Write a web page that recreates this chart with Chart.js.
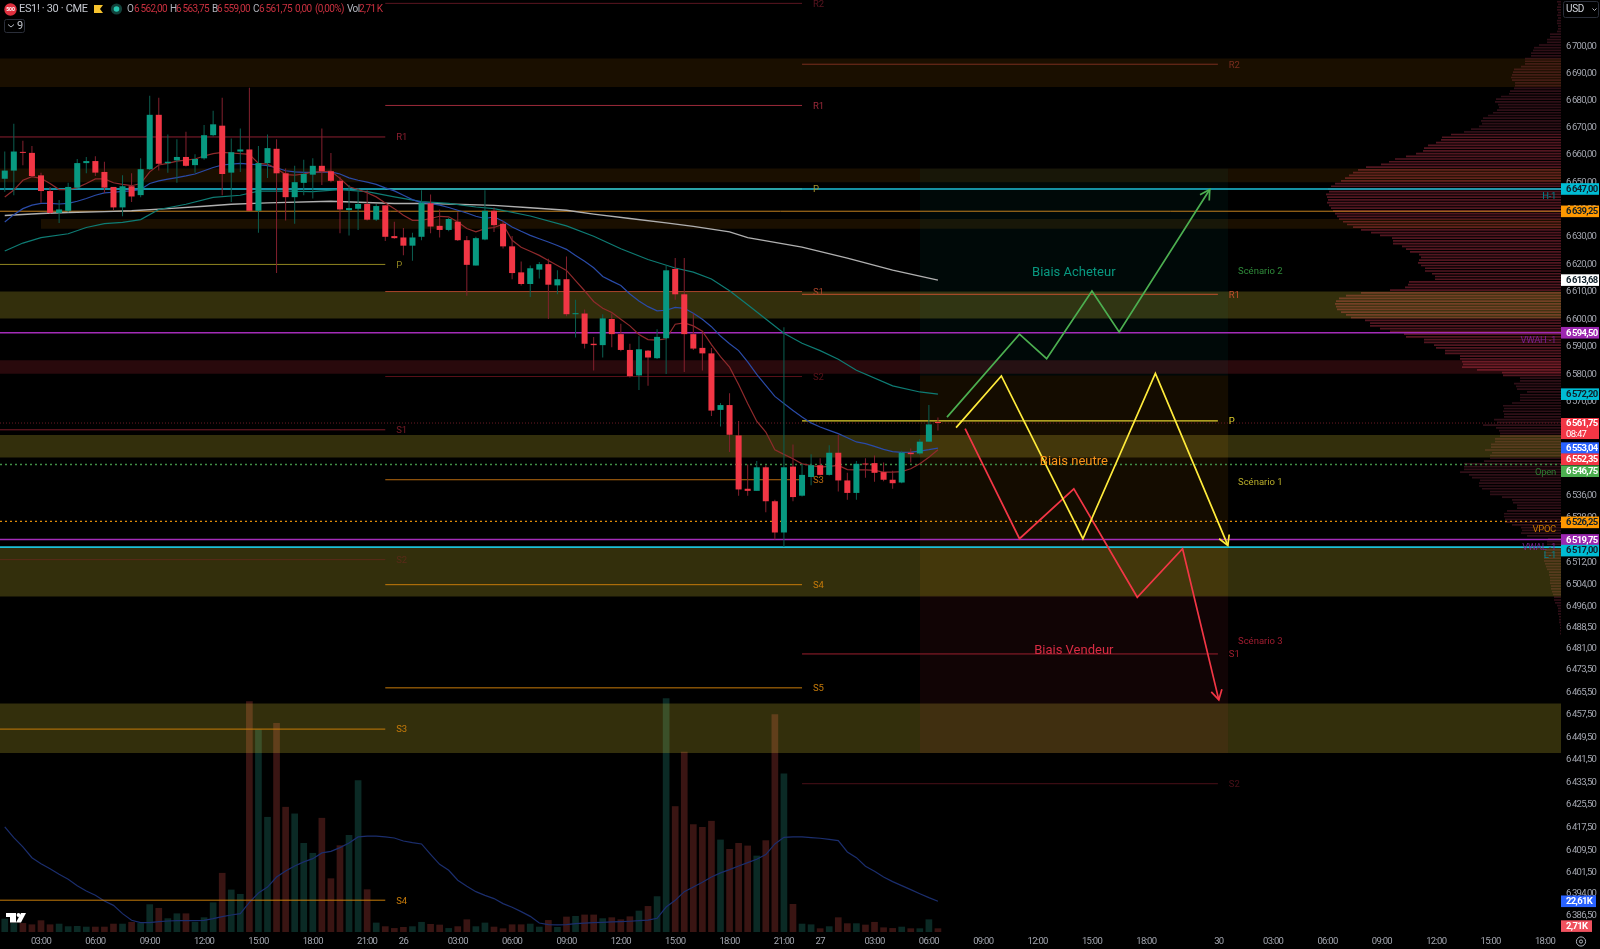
<!DOCTYPE html>
<html>
<head>
<meta charset="utf-8">
<title>ES1! 30</title>
<style>
  html, body { margin: 0; padding: 0; background: #000; overflow: hidden; }
  canvas { display: block; }
</style>
<script src="https://cdn.jsdelivr.net/npm/chart.js@4/dist/chart.umd.min.js"></script>
</head>
<body>
<canvas id="chart" width="1600" height="949"></canvas>
<script>
// candles, one per 30 min bar
const opens = [
  6650.75,6653.75,6660.5,6660.25,6652,6646.25,6638.25,6639,6647.5,6656.5,
  6657.25,6653.25,6647.75,6640.25,6648,6644.75,6654.25,6674.25,6656.5,6657.5,
  6658.75,6655.75,6658.25,6666.75,6670.25,6653,6660.75,6661.5,6639,6656.5,
  6661.75,6652.75,6644,6649.25,6652.25,6655.5,6653.5,6650,6639.25,6639.75,
  6641.5,6635.75,6641,6629.75,6629.25,6626.25,6629.5,6641.75,6633.5,6632,
  6635,6628.25,6619,6628.5,6639,6634.25,6626,6616.5,6612.25,6617.5,
  6619.5,6611.75,6614,6601.25,6601.5,6590.5,6590,6599.5,6594,6588.25,
  6579,6588,6585.25,6592.5,6617.75,6608.5,6594,6589,6587,6566.5,
  6568.25,6557.25,6538,6537.25,6545.75,6533.5,6522.25,6546,6535.5,6542.25,
  6546.5,6543,6551,6541,6536.5,6547,6547.25,6544,6541.25,6540.25,
  6551,6550.75,6555,6562];
const closes = [
  6653.75,6660.75,6660.25,6651.75,6646.25,6638.25,6639.5,6647.75,6656.5,6657.25,
  6653,6647.5,6640.25,6648,6644.25,6654.25,6674.25,6656.25,6657,6658.75,
  6655.5,6658,6666.75,6670.75,6652.5,6660.5,6661.5,6639,6656.5,6662,
  6652.75,6644,6649.5,6652.5,6655.5,6653.5,6650,6639.5,6640,6641.5,
  6635.75,6640.75,6629.5,6629,6626.25,6629.25,6642,6633.25,6632,6636,
  6628.25,6619.25,6629,6639,6633.75,6626,6616.25,6612.25,6618,6619.5,
  6612,6614,6601.25,6601.5,6590.5,6590,6599.75,6594,6588.25,6578.75,
  6588.5,6585.5,6593,6617.25,6608.5,6594,6588.75,6587,6566.25,6568.25,
  6557.5,6537.75,6537.25,6545.75,6533.5,6522.25,6545.75,6535,6543,6546.5,
  6543,6551,6541,6536.5,6547,6546.75,6543.75,6541.25,6540,6551,
  6550.5,6555,6561.25,6561.75];
const highs = [
  6660.75,6671,6664.75,6662.75,6653,6647.75,6643,6649.25,6658,6658.75,
  6659,6657,6647.75,6652,6652.75,6658.25,6681.25,6680.5,6667,6665.25,
  6668,6659.75,6670.5,6675.75,6680.5,6665.5,6669.25,6684.25,6662.75,6667,
  6665.25,6654.5,6655.5,6657.75,6658.25,6669.25,6660.25,6651.5,6648.5,6647.25,
  6646.5,6641.5,6641,6635,6632.75,6631,6646.5,6645,6639.5,6636.5,
  6638.5,6629.75,6629.5,6646.5,6640.25,6635.25,6629.75,6620.5,6619,6620.25,
  6621.5,6617.25,6622.25,6606.5,6603,6593,6601.25,6601.5,6597.75,6590.5,
  6593.25,6588.25,6595.75,6619,6621.75,6621.75,6601.5,6594.5,6589,6569,
  6572.5,6562.5,6546.75,6548,6546.5,6534,6596.5,6554,6547,6550.5,
  6549,6553.75,6557.5,6543.75,6548,6549,6550,6547.5,6544.5,6551.75,
  6552.5,6556,6568.25,6563.75];
const lows = [
  6646,6644.75,6655.75,6651.5,6642,6638,6634.5,6638.5,6647.25,6652.75,
  6651.75,6645.5,6639.25,6637,6642.25,6644,6654,6653.75,6653,6649.25,
  6655.25,6653,6657.75,6666.25,6644.75,6642.25,6653.25,6639,6631,6651,
  6616.25,6635.5,6634.25,6644.75,6643.5,6648.5,6649.5,6630.75,6630,6632,
  6635.5,6635.25,6628,6628.75,6622.75,6620.75,6628.25,6630.75,6629.25,6631.5,
  6628,6608,6619,6628.25,6631.25,6625.25,6614,6611.75,6607.5,6614.25,
  6599.5,6608.5,6600.5,6592.75,6588.75,6580.75,6585.5,6589.25,6587.75,6578.25,
  6573.75,6575.25,6585,6579.5,6606.5,6580.25,6588.25,6580.75,6564.25,6560.5,
  6551.25,6535.5,6535.5,6537.25,6529.5,6519.75,6517,6533.5,6535.25,6539.25,
  6542.75,6542.75,6537,6534,6534,6542,6540.5,6540.75,6538,6540,
  6547.5,6550.25,6555,6559];

// volume in K and its moving average
const volumes = [
  9.8,6.6,6.6,5.6,8.6,5.6,6.1,4.2,4.4,3.9,
  3.9,3.9,6.1,6.1,7.4,6.6,20.4,17.7,10.1,13.7,
  13.7,7.4,10.8,21.8,43.5,31.2,28,169.9,149,84.7,
  153.9,92.1,87.2,65.5,58.2,84,39.5,63.8,71.4,111.7,
  31.4,6.9,4.2,2.9,3.7,4.2,7.4,5.9,5.4,2.9,
  4.2,9.3,4.2,6.9,3.9,2.7,5.6,5.6,6.1,3.9,
  8.8,3.7,11.3,11.8,12.8,12.8,10.1,10.8,9.3,11.5,
  15.7,19.1,26.3,172.1,92.6,132.6,79.3,77.3,81.8,68,
  61.1,65.5,63.6,56.2,67.5,160.3,116.6,20.6,6.1,5.6,
  2.7,4.2,10.8,6.4,6.4,5.4,7.4,3.4,2.9,3.9,
  2.7,2.7,9.3,2.71];
const volumeMa = [
  77.3,69.5,62.6,54.7,50.3,46.6,42.5,38.8,34.1,30.2,
  27,22.8,19.6,13.5,8.6,6.9,6.9,7.6,8.1,8.3,
  8.3,8.3,8.6,9.8,11.3,12.5,13.5,21.8,28.7,33.1,
  40.5,44.9,48.6,51.6,54,58.2,59.4,62.1,65.5,70,
  70.5,70.5,70,69.2,67,65.8,64.8,57.2,49.8,45.4,
  38.1,33.6,29.7,27,24.6,20.9,18.2,15,11.5,6.6,
  5.4,5.2,5.4,6.1,6.6,6.9,7.1,7.4,7.6,7.9,
  8.3,8.8,10.1,18.4,23.3,29.7,33.1,36.6,40.5,43.5,
  45.9,48.6,51.1,53.5,57,64.8,69.7,70,70,69.5,
  69,68.2,67.3,58.9,54.7,48.4,44.7,40.5,37.1,34.1,
  31.2,28.2,25.3,22.61];

// moving averages on price
const emaFast = [
  6644.1,6646.6,6650.2,6651.5,6650.9,6649,6646.8,6646.8,6647.5,6649,
  6650.7,6650.7,6649.3,6648.7,6648.2,6649,6653.3,6655.8,6656.4,6657.2,
  6657.6,6658,6659.1,6660,6660.4,6660.2,6660,6659.7,6656.4,6656.1,
  6654.5,6652.3,6652.1,6652.5,6653.3,6653.3,6653.6,6650.9,6647.8,6646.8,
  6645.6,6644.1,6641.9,6639.8,6637.4,6635.5,6635.5,6636.2,6637,6636.8,
  6634.9,6632.5,6631.3,6632.5,6632.9,6634.1,6628.2,6625.7,6624.2,6622.7,
  6620.8,6619,6617.2,6613.5,6609.8,6605.9,6603.4,6601.9,6599.4,6597,
  6593.9,6592,6591.8,6592.3,6597.6,6598.1,6597,6595.1,6590.2,6585.8,
  6582,6575.7,6568.8,6562.4,6558.5,6552.1,6550.4,6548.8,6547,6546.4,
  6545.8,6546.1,6546.4,6544.9,6544.8,6544.8,6544.6,6544,6544,6544.2,
  6545.2,6547,6549.4,6552.1];
const emaMid = [
  6634.9,6637.6,6639.8,6641.1,6641.7,6641.7,6641.5,6641.7,6642.5,6643.5,
  6644.7,6645.6,6645.8,6646.1,6646.3,6646.8,6649,6650,6650.6,6651.2,
  6651.8,6652.5,6653.7,6654.9,6655.8,6656.1,6656.4,6656.1,6655.9,6655.6,
  6654.8,6653.7,6653.3,6653.1,6653.1,6653.2,6653.3,6652.5,6651.1,6650.2,
  6649.5,6648.7,6647.4,6646.3,6644.7,6643.1,6642,6641.7,6641.1,6640.2,
  6639.2,6638.2,6637,6636.2,6636.8,6635.2,6633.1,6631.5,6630,6628.8,
  6627.6,6626.3,6624.9,6622.7,6620.6,6618.2,6615,6613.3,6611.7,6608.6,
  6606.1,6604,6602.5,6602.7,6603.7,6603.4,6601.6,6599.4,6596.7,6593.3,
  6590.5,6588,6583.9,6579.4,6575.4,6571.4,6568.8,6566.3,6563.9,6561.8,
  6560.3,6559.1,6557.9,6556.4,6554.9,6554.3,6553.3,6552.2,6551.4,6551.1,
  6551.2,6551.6,6552.1,6552.7];
const emaSlowBars = [0,2,4,7,9,11,13,15,17,20,23,26,28,31,34,37,40,43,46,49,52,54,58,62,65,68,71,74,76,78,80,82,84,86,88,90,92,94,98,101,103];
const emaSlow = [6624.3,6627.2,6629.2,6630.6,6632.9,6634.3,6634.8,6635.8,6639.5,6641.4,6643.9,6644.7,6646.2,6646.2,6646,6646.8,6646,6644.1,6642.4,6641.7,6640.4,6639.8,6637.1,6633.5,6629.7,6625.1,6621.2,6618.1,6616.6,6614.1,6609.8,6604.7,6599.5,6594.3,6590.7,6588,6584.9,6580.9,6575.2,6573,6572.2];
const smaBars = [0,4,7,11,14,18,22,25,29,36,43,47,54,58,62,65,69,73,76,80,82,88,93,98,103];
const sma = [6637.3,6638,6638.4,6638.7,6639,6639.8,6640.7,6641.4,6641.9,6642.5,6641.7,6641.7,6641,6640.1,6639.2,6637.8,6636.2,6634.6,6633.3,6631.3,6629.2,6625.7,6621.7,6617.3,6613.68];

// volume profile, one row per point
const profilePrices = [
  6716,6715,6714,6713,6712,6711,6710,6709,6708,6707,
  6706,6705,6704,6703,6702,6701,6700,6699,6698,6697,
  6696,6695,6694,6693,6692,6691,6690,6689,6688,6687,
  6686,6685,6684,6683,6682,6681,6680,6679,6678,6677,
  6676,6675,6674,6673,6672,6671,6670,6669,6668,6667,
  6666,6665,6664,6663,6662,6661,6660,6659,6658,6657,
  6656,6655,6654,6653,6652,6651,6650,6649,6648,6647,
  6646,6645,6644,6643,6642,6641,6640,6639,6638,6637,
  6636,6635,6634,6633,6632,6631,6630,6629,6628,6627,
  6626,6625,6624,6623,6622,6621,6620,6619,6618,6617,
  6616,6615,6614,6613,6612,6611,6610,6609,6608,6607,
  6606,6605,6604,6603,6602,6601,6600,6599,6598,6597,
  6596,6595,6594,6593,6592,6591,6590,6589,6588,6587,
  6586,6585,6584,6583,6582,6581,6580,6579,6578,6577,
  6576,6575,6574,6573,6572,6571,6570,6569,6568,6567,
  6566,6565,6564,6563,6562,6561,6560,6559,6558,6557,
  6556,6555,6554,6553,6552,6551,6550,6549,6548,6547,
  6546,6545,6544,6543,6542,6541,6540,6539,6538,6537,
  6536,6535,6534,6533,6532,6531,6530,6529,6528,6527,
  6526,6525,6524,6523,6522,6521,6520,6519,6518,6517,
  6516,6515,6514,6513,6512,6511,6510,6509,6508,6507,
  6506,6505,6504,6503,6502,6501,6500,6499,6498,6497,
  6496,6495,6494,6493,6492,6491,6490,6489,6488,6487,
  6486];
const profileVolumes = [
  4,3,4,4,3,4,3,4,4,3,
  3,4,11,11,14,14,22,27,28,30,
  30,36,36,36,40,47,48,49,50,49,
  46,46,47,51,52,60,65,66,63,62,
  64,68,73,78,80,79,82,90,97,110,
  119,120,125,133,137,138,145,155,166,172,
  180,195,203,208,212,216,220,226,230,233,
  232,235,234,233,234,232,230,228,226,224,
  222,218,214,208,200,190,181,169,168,168,
  159,155,151,142,140,142,143,140,136,136,
  129,126,126,152,153,156,171,200,215,222,
  225,226,225,224,220,215,210,196,191,191,
  181,171,157,155,137,137,127,125,116,116,
  101,101,99,98,99,84,59,58,41,41,
  47,45,44,34,41,41,41,49,58,57,
  58,57,57,67,64,78,65,62,61,61,
  66,66,70,70,76,69,71,71,77,97,
  97,97,101,92,89,81,82,82,79,71,
  71,59,49,48,44,44,54,57,57,56,
  56,49,40,39,40,34,13,14,14,15,
  16,17,17,17,17,16,15,14,12,12,
  11,11,11,10,10,9,8,7,7,6,
  4,3,3,3,2,2,2,1,1,1,
  1];

// zones: top, bottom
const bandTops = [6695, 6654.5, 6636, 6609.5, 6584.5, 6557.4, 6516.7, 6461];
const bandBottoms = [6684.5, 6649.5, 6632.4, 6599.7, 6579.6, 6549.3, 6499.3, 6443.4];
const boxTops = [6654.5, 6579, 6499.5];
const boxBottoms = [6579, 6499.5, 6443.4];

// pivots
const pivotsA = [6666.1, 6619.4, 6559.3, 6512.5, 6451.9, 6391.3];
const pivotsB = [6715.4, 6677.7, 6647, 6609.5, 6578.6, 6541.25, 6503.5, 6466.6];
const pivotsC = [6692.9, 6608.5, 6562.5, 6478.7, 6432.5];
const pivotNamesA = ["R1", "P", "S1", "S2", "S3", "S4"];
const pivotNamesB = ["R2", "R1", "P", "S1", "S2", "S3", "S4", "S5"];
const pivotNamesC = ["R2", "R1", "P", "S1", "S2"];

// scenarios
const greenBars = [104, 112, 115, 120, 123, 133];
const greenPrices = [6563.9, 6594, 6585.1, 6609.7, 6594.8, 6646.8];
const yellowBars = [105, 110, 119, 127, 135];
const yellowPrices = [6560.1, 6578.8, 6520, 6579.7, 6517.6];
const redBars = [106, 112, 118, 125, 130, 134];
const redPrices = [6559.7, 6520, 6538, 6499, 6516.4, 6462.3];

// axes
const priceTicks = [6700,6690,6680,6670,6660,6650,6640,6630,6620,6610,6600,6590,6580,6570,6560,6552,6544,6536,6528,6520,6512,6504,6496,6488.5,6481,6473.5,6465.5,6457.5,6449.5,6441.5,6433.5,6425.5,6417.5,6409.5,6401.5,6394,6386.5];
const timeTickBars = [4,10,16,22,28,34,40,44,50,56,62,68,74,80,86,90,96,102,108,114,120,126,134,140,146,152,158,164,170];
const timeTickLabels = ["03:00","06:00","09:00","12:00","15:00","18:00","21:00","26","03:00","06:00","09:00","12:00","15:00","18:00","21:00","27","03:00","06:00","09:00","12:00","15:00","18:00","30","03:00","06:00","09:00","12:00","15:00","18:00"];

const X_MIN = -0.525, X_MAX = 171.77;
const Y_MIN = 6380.1, Y_MAX = 6716.65;
const UP = "#089981", DOWN = "#f23645";
const FONT = "Roboto, 'Noto Sans', sans-serif";
const TIGHT = "-0.7px";

function isUp(i) { return closes[i] >= opens[i]; }

function xy(bars, values) {
  return bars.map((b, i) => ({ x: b, y: values[i] }));
}

function hline(price, from, to, color, extra) {
  return Object.assign({
    type: "line",
    data: [{ x: from, y: price }, { x: to, y: price }],
    borderColor: color,
    borderWidth: 1,
    pointRadius: 0,
    order: 80
  }, extra || {});
}

function zone(top, bottom, from, to, color, order) {
  return {
    type: "line",
    data: [{ x: from, y: top }, { x: to, y: top }],
    borderWidth: 0,
    pointRadius: 0,
    backgroundColor: color,
    fill: { value: bottom },
    order: order
  };
}

function maLine(data, color, width, order) {
  return {
    type: "line",
    data: data,
    borderColor: color,
    borderWidth: width,
    pointRadius: 0,
    tension: 0,
    order: order
  };
}

function noPadding(s) {
  s.paddingLeft = s.paddingRight = s.paddingTop = s.paddingBottom = 0;
}

const barIdx = opens.map((_, i) => i);
const datasets = [];

// volume + MA at the very back
datasets.push({
  type: "bar",
  data: barIdx.map(i => ({ x: i, y: volumes[i] })),
  yAxisID: "y2",
  backgroundColor: barIdx.map(i => isUp(i) ? "#0b2a25" : "#3a1513"),
  barPercentage: 0.92,
  grouped: false,
  order: 100
});
datasets.push({
  type: "line",
  data: barIdx.map(i => ({ x: i, y: volumeMa[i] })),
  yAxisID: "y2",
  borderColor: "#1b2e6e",
  borderWidth: 1.2,
  pointRadius: 0,
  order: 99
});

// volume profile hangs off the right edge
datasets.push({
  type: "bar",
  indexAxis: "y",
  data: profilePrices.map((p, i) => ({ x: profileVolumes[i], y: p })),
  xAxisID: "xP",
  yAxisID: "yP",
  backgroundColor: profilePrices.map(p => (p <= 6667 && p >= 6579) ? "#521620" : "#2f0f17"),
  barPercentage: 0.78,
  grouped: false,
  order: 98
});

// zones
const bandColors = ["rgba(255,152,0,0.10)", "rgba(255,152,0,0.10)", "rgba(255,152,0,0.10)", "rgba(255,235,59,0.20)", "rgba(242,54,69,0.17)", "rgba(255,235,59,0.20)", "rgba(255,235,59,0.20)", "rgba(255,235,59,0.20)"];
bandTops.forEach((top, i) => {
  const from = i === 2 ? 4 : X_MIN;
  datasets.push(zone(top, bandBottoms[i], from, X_MAX, bandColors[i], 90));
});
const boxColors = ["rgba(0,150,136,0.06)", "rgba(255,152,0,0.08)", "rgba(242,54,69,0.07)"];
boxTops.forEach((top, i) => {
  datasets.push(zone(top, boxBottoms[i], 101, 135.05, boxColors[i], 89));
});

// pivots
const pivotColorsA = ["#8c1f30", "#8f8420", "#7a1c28", "#5a2a18", "#c77b0a", "#c77b0a"];
const pivotColorsB = ["#5a1520", "#9c2a3a", "#a8952a", "#a8442a", "#5b1119", "#b86a10", "#c77b0a", "#c77b0a"];
const pivotColorsC = ["#7a2e1e", "#c2502e", "#e0ce2c", "#9c1f2e", "#4a1018"];
pivotsA.forEach((p, i) => datasets.push(hline(p, X_MIN, 42, pivotColorsA[i])));
pivotsB.forEach((p, i) => datasets.push(hline(p, 42, 88, pivotColorsB[i])));
pivotsC.forEach((p, i) => datasets.push(hline(p, 88, 133.9, pivotColorsC[i], { borderWidth: i === 2 ? 1.3 : 1 })));

// full width levels, above the pivots
[
  hline(6638.85, X_MIN, X_MAX, "#c2801f"),
  hline(6647, X_MIN, X_MAX, "#1cc0d8", { borderWidth: 1.6 }),
  hline(6594.5, X_MIN, X_MAX, "#a32cb8", { borderWidth: 1.6 }),
  hline(6519.75, X_MIN, X_MAX, "#a32cb8", { borderWidth: 1.6 }),
  hline(6517, X_MIN, X_MAX, "#1cc0d8", { borderWidth: 1.6 }),
  hline(6561.75, X_MIN, X_MAX, "#6a1a24", { borderDash: [1, 2] }),
  hline(6546.75, X_MIN, X_MAX, "#3f8f46", { borderDash: [2, 3], borderWidth: 1.3 }),
  hline(6526.25, X_MIN, X_MAX, "#e08c0a", { borderDash: [2, 3], borderWidth: 1.3 })
].forEach(d => { d.order = 78; datasets.push(d); });

// moving averages
datasets.push(maLine(xy(smaBars, sma), "#b0b0b0", 1.4, 73));
datasets.push(maLine(xy(emaSlowBars, emaSlow), "#0e7c74", 1.2, 72));
datasets.push(maLine(xy(barIdx, emaMid), "#2a4ba8", 1.2, 71));
datasets.push(maLine(xy(barIdx, emaFast), "#8f2a2c", 1.2, 70));

// candles
datasets.push({
  type: "bar",
  data: barIdx.map(i => ({ x: i, y: [lows[i], highs[i]] })),
  backgroundColor: barIdx.map(i => isUp(i) ? "#0c5f51" : "#84202e"),
  maxBarThickness: 1,
  grouped: false,
  order: 60
});
datasets.push({
  type: "bar",
  data: barIdx.map(i => ({ x: i, y: [opens[i], closes[i]] })),
  backgroundColor: barIdx.map(i => isUp(i) ? UP : DOWN),
  barPercentage: 0.83,
  minBarLength: 1,
  grouped: false,
  order: 50
});

// scenarios
[[greenBars, greenPrices, "#4caf50"], [yellowBars, yellowPrices, "#ffeb3b"], [redBars, redPrices, "#f23645"]].forEach(s => {
  datasets.push({
    type: "line",
    data: xy(s[0], s[1]),
    borderColor: s[2],
    borderWidth: 1.7,
    pointRadius: 0,
    tension: 0,
    arrow: true,
    order: 40
  });
});

function fmtPrice(v) {
  const s = v.toFixed(2).replace(".", ",");
  return s.charAt(0) + "\u2009" + s.slice(1);
}

function text(ctx, str, x, y, color, font, align, spacing) {
  ctx.fillStyle = color;
  ctx.font = font;
  ctx.letterSpacing = spacing || "0px";
  ctx.textAlign = align || "left";
  ctx.textBaseline = "middle";
  ctx.fillText(str, x, y + 1);
}

const overlay = {
  id: "overlay",
  beforeDraw(chart) {
    // axis labels are squeezed a little and sit slightly lower than canvas "middle"
    chart.ctx.letterSpacing = TIGHT;
    chart.scales.y.getLabelItems().forEach(it => { it.options.translation[1] += 1.5; });
  },
  afterDatasetsDraw(chart) {
    const ctx = chart.ctx;
    ctx.save();
    chart.data.datasets.forEach((d, i) => {
      if (!d.arrow) return;
      const pts = chart.getDatasetMeta(i).data;
      const a = pts[pts.length - 2], b = pts[pts.length - 1];
      const ang = Math.atan2(b.y - a.y, b.x - a.x);
      ctx.strokeStyle = d.borderColor;
      ctx.lineWidth = 1.7;
      ctx.beginPath();
      ctx.moveTo(b.x - 11 * Math.cos(ang - 0.52), b.y - 11 * Math.sin(ang - 0.52));
      ctx.lineTo(b.x, b.y);
      ctx.lineTo(b.x - 11 * Math.cos(ang + 0.52), b.y - 11 * Math.sin(ang + 0.52));
      ctx.stroke();
    });
    ctx.restore();
  },
  afterDraw(chart) {
    const ctx = chart.ctx;
    const yS = chart.scales.y, xS = chart.scales.x, vS = chart.scales.y2;
    ctx.save();

    // pivot names
    const small = "9.5px " + FONT;
    pivotsA.forEach((p, i) => text(ctx, pivotNamesA[i], xS.getPixelForValue(43.2), yS.getPixelForValue(p), pivotColorsA[i], small));
    pivotsB.forEach((p, i) => text(ctx, pivotNamesB[i], xS.getPixelForValue(89.2), yS.getPixelForValue(p), pivotColorsB[i], small));
    pivotsC.forEach((p, i) => text(ctx, pivotNamesC[i], xS.getPixelForValue(135.1), yS.getPixelForValue(p), pivotColorsC[i], small));

    // zone titles
    const xMid = xS.getPixelForValue(118);
    const big = "13px " + FONT;
    text(ctx, "Biais Acheteur", xMid, 272, "#089981", big, "center");
    text(ctx, "Biais neutre", xMid, 461, "#f7931a", big, "center");
    text(ctx, "Biais Vendeur", xMid, 650, "#d92c44", big, "center");
    const sc = "9.5px " + FONT;
    text(ctx, "Scénario 2", 1238, 271, "#2f8a3a", sc);
    text(ctx, "Scénario 1", 1238, 482, "#b9ad2a", sc);
    text(ctx, "Scénario 3", 1238, 641, "#a11d30", sc);

    // level names by the profile
    const lv = "9.5px " + FONT;
    text(ctx, "H-1", 1556, 196, "#00838f", lv, "right", "-0.3px");
    text(ctx, "VWAH -1", 1556, 340, "#7b1f8f", lv, "right", "-0.3px");
    text(ctx, "Open", 1556, 472, "#2e7d32", lv, "right", "-0.3px");
    text(ctx, "VPOC", 1556, 529, "#c77700", lv, "right", "-0.3px");
    text(ctx, "VWAL -1", 1556, 547, "#7b1f8f", lv, "right", "-0.3px");
    text(ctx, "L-1", 1556, 555, "#00838f", lv, "right", "-0.3px");

    // price tags
    const tags = [
      [6647, 0, "#00bcd4", "#10202a"],
      [6639.25, 1.2, "#ff9800", "#10202a"],
      [6613.68, 0, "#ffffff", "#10202a"],
      [6594.5, 0, "#9c27b0", "#ffffff"],
      [6572.2, 0, "#00bcd4", "#10202a"],
      [6553.04, 1, "#2962ff", "#ffffff"],
      [6552.35, 10.2, "#f23645", "#ffffff"],
      [6546.75, 6.7, "#4caf50", "#ffffff"],
      [6526.25, 1, "#ff9800", "#10202a"],
      [6519.75, 0.5, "#9c27b0", "#ffffff"],
      [6517, 3.5, "#00bcd4", "#10202a"]
    ];
    const tagFont = "bold 9.5px " + FONT;
    tags.forEach(t => {
      const y = yS.getPixelForValue(t[0]) + t[1];
      ctx.fillStyle = t[2];
      ctx.fillRect(1561, y - 5.8, 38, 11.6);
      text(ctx, fmtPrice(t[0]), 1566, y - 0.5, t[3], tagFont, "left", TIGHT);
    });
    const py = yS.getPixelForValue(closes[closes.length - 1]);
    ctx.fillStyle = "#f23645";
    ctx.fillRect(1561, py - 5, 38, 21);
    text(ctx, fmtPrice(closes[closes.length - 1]), 1566, py, "#ffffff", tagFont, "left", TIGHT);
    text(ctx, "08:47", 1566, py + 10.5, "#ffffff", "9.5px " + FONT, "left", TIGHT);

    const ma = volumeMa[volumeMa.length - 1], vol = volumes[volumes.length - 1];
    ctx.fillStyle = "#2962ff";
    ctx.fillRect(1561, vS.getPixelForValue(ma) - 5.8, 35, 11.6);
    text(ctx, "22,61K", 1566, vS.getPixelForValue(ma) - 0.5, "#ffffff", tagFont, "left", TIGHT);
    ctx.fillStyle = "#f0525f";
    ctx.fillRect(1561, vS.getPixelForValue(vol) - 8, 31, 11.6);
    text(ctx, "2,71K", 1566, vS.getPixelForValue(vol) - 2.7, "#ffffff", tagFont, "left", TIGHT);

    // header
    ctx.fillStyle = "#e0303f";
    ctx.beginPath(); ctx.arc(10.5, 9.5, 6.2, 0, Math.PI * 2); ctx.fill();
    text(ctx, "500", 10.5, 8.8, "#ffffff", "bold 5px " + FONT, "center");
    text(ctx, "ES1! · 30 · CME", 19, 8.5, "#c3c6ce", "11px " + FONT, "left", "-0.35px");
    ctx.fillStyle = "#f7c32e";
    ctx.beginPath();
    ctx.moveTo(94, 5); ctx.lineTo(103, 5); ctx.lineTo(100, 9); ctx.lineTo(103, 13); ctx.lineTo(94, 13);
    ctx.closePath(); ctx.fill();
    ctx.fillStyle = "#12423b";
    ctx.beginPath(); ctx.arc(116.5, 9, 5.6, 0, Math.PI * 2); ctx.fill();
    ctx.fillStyle = "#26c6b0";
    ctx.beginPath(); ctx.arc(116.5, 9, 2.8, 0, Math.PI * 2); ctx.fill();
    const grey = "#b2b5be", red = "#c8303f";
    [["O", 127, grey], ["6\u2009562,00", 134, red], ["H", 170, grey], ["6\u2009563,75", 176, red], ["B", 212, grey], ["6\u2009559,00", 217, red], ["C", 253, grey], ["6\u2009561,75", 259, red], ["0,00", 295, red], ["(0,00%)", 315, red], ["Vol", 347, grey], ["2,71\u2009K", 359, red]].forEach(h => {
      text(ctx, h[0], h[1], 8, h[2], "10px " + FONT, "left", "-0.6px");
    });
    ctx.strokeStyle = "#2a2e39";
    ctx.lineWidth = 1;
    ctx.beginPath(); ctx.roundRect(4.5, 19.5, 20, 13, 2); ctx.stroke();
    ctx.strokeStyle = "#b2b5be";
    ctx.beginPath(); ctx.moveTo(8, 24.5); ctx.lineTo(11, 27); ctx.lineTo(14, 24.5); ctx.stroke();
    text(ctx, "9", 17, 25, "#c3c6ce", "11px " + FONT);

    // currency box
    ctx.strokeStyle = "#2a2e39";
    ctx.beginPath(); ctx.roundRect(1563.5, 1.5, 35, 16, 2); ctx.stroke();
    text(ctx, "USD", 1566, 8.5, "#d1d4dc", "10px " + FONT, "left", "-0.3px");
    ctx.strokeStyle = "#b2b5be";
    ctx.beginPath(); ctx.moveTo(1592.5, 8.5); ctx.lineTo(1594.5, 10.5); ctx.lineTo(1596.5, 8.5); ctx.stroke();

    // corner logo
    ctx.fillStyle = "#ffffff";
    ctx.beginPath();
    ctx.moveTo(6, 913); ctx.lineTo(16, 913); ctx.lineTo(16, 922.5); ctx.lineTo(10, 922.5); ctx.lineTo(10, 917); ctx.lineTo(6, 917);
    ctx.closePath(); ctx.fill();
    ctx.beginPath(); ctx.arc(18.5, 915, 1.9, 0, Math.PI * 2); ctx.fill();
    ctx.beginPath();
    ctx.moveTo(21, 913); ctx.lineTo(26, 913); ctx.lineTo(21, 922.5); ctx.lineTo(16, 922.5);
    ctx.closePath(); ctx.fill();

    // gear
    ctx.strokeStyle = "#b2b5be";
    ctx.beginPath(); ctx.arc(1581, 941.5, 4.6, 0, Math.PI * 2); ctx.stroke();
    ctx.beginPath(); ctx.arc(1581, 941.5, 1.6, 0, Math.PI * 2); ctx.stroke();

    ctx.restore();
  }
};

new Chart(document.getElementById("chart"), {
  type: "bar",
  data: { datasets: datasets },
  plugins: [overlay],
  options: {
    responsive: false,
    animation: false,
    layout: { padding: 0 },
    plugins: { legend: { display: false }, tooltip: { enabled: false } },
    scales: {
      x: {
        type: "linear",
        offset: false,
        bounds: "data",
        min: X_MIN,
        max: X_MAX,
        grid: { display: false, drawTicks: false },
        border: { display: false },
        afterFit(s) { s.height = 17; noPadding(s); },
        afterBuildTicks(s) { s.ticks = timeTickBars.map(v => ({ value: v })); },
        ticks: {
          autoSkip: false,
          maxRotation: 0,
          padding: 4,
          color: "#a3a6af",
          font: { family: FONT, size: 9.5 },
          callback: v => timeTickLabels[timeTickBars.indexOf(v)]
        }
      },
      y: {
        type: "logarithmic",
        position: "right",
        offset: false,
        bounds: "data",
        min: Y_MIN,
        max: Y_MAX,
        grid: { display: false, drawTicks: false },
        border: { display: false },
        afterFit(s) { s.width = 39; noPadding(s); },
        afterBuildTicks(s) { s.ticks = priceTicks.map(v => ({ value: v })); },
        ticks: {
          autoSkip: false,
          padding: 5,
          color: "#a3a6af",
          font: { family: FONT, size: 9.5 },
          callback: v => fmtPrice(v)
        }
      },
      xP: { type: "linear", display: false, offset: false, reverse: true, bounds: "data", min: 0, max: 1561 },
      yP: { type: "logarithmic", display: false, offset: false, bounds: "data", min: Y_MIN, max: Y_MAX },
      y2: { type: "linear", display: false, offset: false, bounds: "data", min: 0, max: 686 }
    }
  }
});
</script>
</body>
</html>
